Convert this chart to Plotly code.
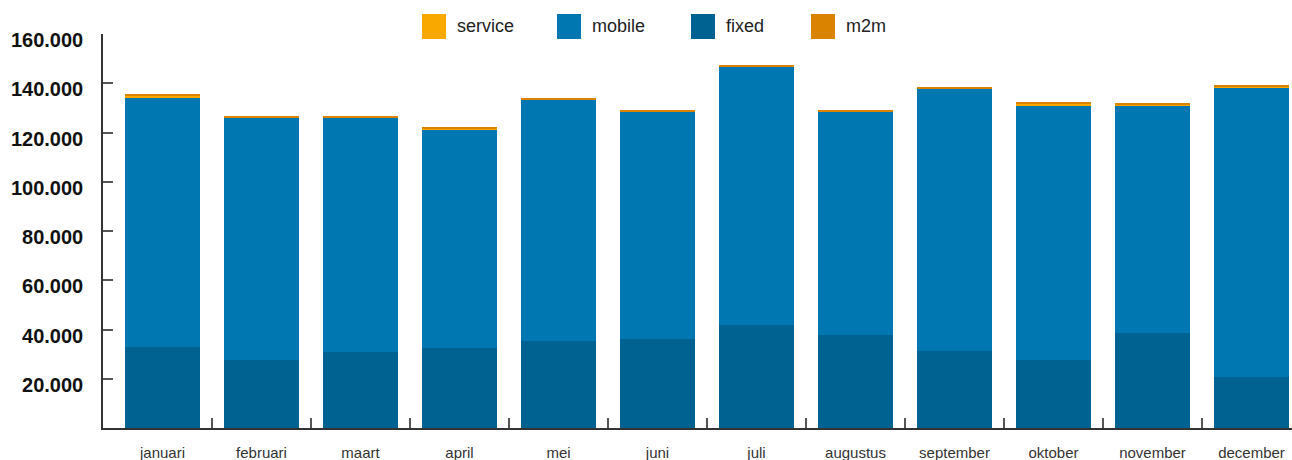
import plotly.graph_objects as go

# Monthly volumes per segment
months = ["januari", "februari", "maart", "april", "mei", "juni",
          "juli", "augustus", "september", "oktober", "november", "december"]
fixed = [32900, 27600, 30900, 32500, 35300, 36200, 41800, 37800, 31400, 27700, 38700, 20700]
mobile = [101100, 98300, 95000, 88750, 97900, 92300, 104800, 90600, 106300, 103400, 92400, 117500]
service = [1100, 100, 100, 450, 100, 100, 100, 100, 100, 550, 50, 550]
m2m = [300, 300, 300, 250, 350, 350, 350, 350, 350, 400, 900, 700]

y_tickvals = [20000, 40000, 60000, 80000, 100000, 120000, 140000, 160000]
y_ticktext = ["20.000", "40.000", "60.000", "80.000", "100.000", "120.000", "140.000", "160.000"]

# Series drawn bottom-up in the stack; legend lists them in a different order
series = [
    ("fixed", fixed, "#006290"),
    ("mobile", mobile, "#0077B0"),
    ("service", service, "#F9A800"),
    ("m2m", m2m, "#D98300"),
]
legend_order = ["service", "mobile", "fixed", "m2m"]

W, H = 1292, 460
M_L, M_R, M_T, M_B = 103, 0, 34, 32
PLOT_W = W - M_L - M_R
PLOT_H = H - M_T - M_B

SANS = "Liberation Sans, Arial, sans-serif"

x_idx = list(range(len(months)))

fig = go.Figure()
for name, vals, color in series:
    fig.add_trace(go.Bar(
        x=x_idx, y=vals, name=name,
        marker=dict(color=color, line=dict(width=0)),
        width=0.757, showlegend=False,
    ))


def px_x(px):
    return (px - M_L) / PLOT_W


def px_y(py):
    return (H - M_B - py) / PLOT_H


# Legend row across the top: square swatch + label
colors = {n: c for n, _, c in series}
swatch_left = [422, 557, 691, 811]
shapes = []
annotations = []
for name, sx in zip(legend_order, swatch_left):
    shapes.append(dict(
        type="rect", xref="paper", yref="paper",
        x0=px_x(sx), x1=px_x(sx + 24), y0=px_y(39), y1=px_y(14),
        fillcolor=colors[name], line=dict(width=0), layer="above",
    ))
    annotations.append(dict(
        text=name, xref="paper", yref="paper",
        x=px_x(sx + 33), y=px_y(26.5), xanchor="left", yanchor="middle",
        showarrow=False, font=dict(family=SANS, size=18, color="#222222"),
    ))

fig.update_layout(
    width=W, height=H,
    margin=dict(l=M_L, r=M_R, t=M_T, b=M_B, pad=0),
    barmode="stack",
    paper_bgcolor="white", plot_bgcolor="white",
    shapes=shapes, annotations=annotations,
    showlegend=False,
    xaxis=dict(
        range=[-0.601, -0.601 + PLOT_W / 99.0],
        tickvals=x_idx, ticktext=months, ticks="",
        tickfont=dict(family=SANS, size=15, color="#333333"),
        ticklabelstandoff=10, automargin=False,
        showline=True, linecolor="#333333", linewidth=1.6,
        showgrid=False, zeroline=False,
        minor=dict(tickvals=[i + 0.5 for i in x_idx[:-1]], ticks="inside",
                   ticklen=10, tickwidth=1.5, tickcolor="#555555", showgrid=False),
    ),
    yaxis=dict(
        range=[0, 160000],
        tickvals=y_tickvals, ticktext=y_ticktext,
        ticks="inside", ticklen=10, tickwidth=1.5, tickcolor="#555555",
        tickfont=dict(family=SANS, size=20, color="#111111", weight="bold"),
        ticklabelstandoff=14, ticklabelshift=6, automargin=False,
        showline=True, linecolor="#333333", linewidth=1.6,
        showgrid=False, zeroline=False,
    ),
)

fig.write_html("out.html")
